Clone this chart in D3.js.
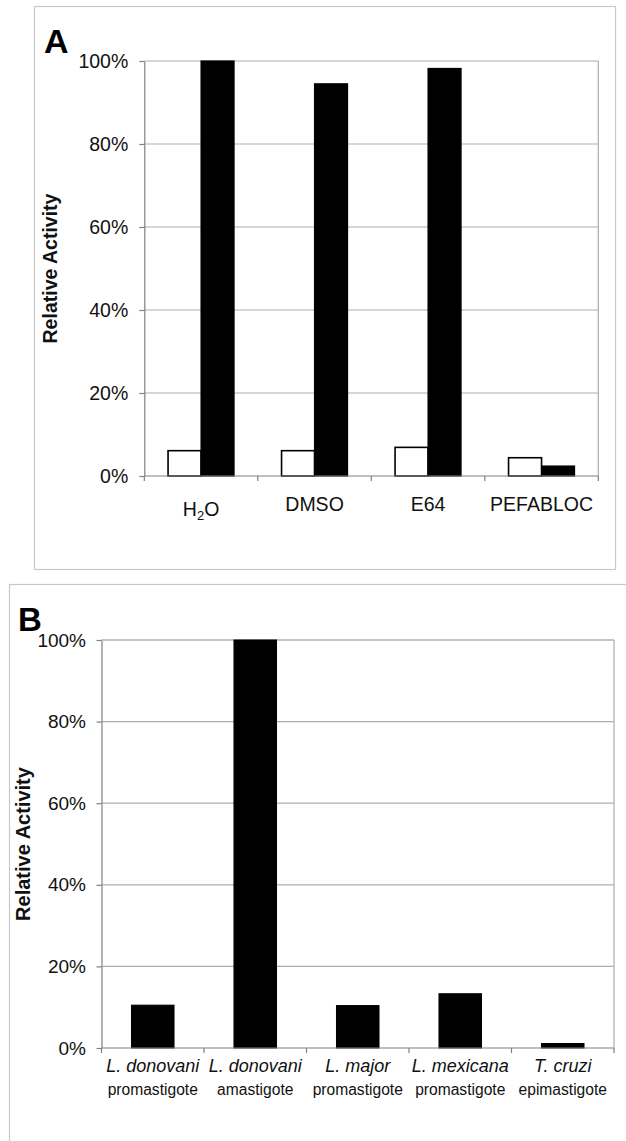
<!DOCTYPE html>
<html>
<head>
<meta charset="utf-8">
<script src="https://cdn.jsdelivr.net/npm/d3@7/dist/d3.min.js"></script>
<style>
  html, body { margin: 0; padding: 0; background: #fff; }
  svg { display: block; font-family: "Liberation Sans", Arial, sans-serif; }
</style>
</head>
<body>
<svg id="chart" width="626" height="1141"></svg>
<script>
// ---- Data ----
const categoriesA = ["H2O", "DMSO", "E64", "PEFABLOC"];
const seriesA = ["open", "filled"];
const openValuesA = [0.061, 0.061, 0.069, 0.044];
const filledValuesA = [1.0, 0.945, 0.982, 0.024];

const speciesB = ["L. donovani", "L. donovani", "L. major", "L. mexicana", "T. cruzi"];
const stagesB = ["promastigote", "amastigote", "promastigote", "promastigote", "epimastigote"];
const valuesB = [0.105, 1.0, 0.104, 0.133, 0.011];

const yTicks = [0, 0.2, 0.4, 0.6, 0.8, 1.0];
const yLabel = "Relative Activity";

// ---- Setup ----
const svg = d3.select("#chart");
svg.append("rect").attr("width", 626).attr("height", 1141).attr("fill", "#fff");
const fmt = d3.format(".0%");
const axisColor = "#808080";
const gridColor = "#adadad";
const frameColor = "#c8c8c8";
const textColor = "#111";

// ================= Panel A =================
svg.append("rect").attr("x", 34.5).attr("y", 6.5).attr("width", 581).attr("height", 563)
  .attr("fill", "none").attr("stroke", frameColor).attr("stroke-width", 1.2);

const A = { left: 144.3, right: 598.3, top: 61, bottom: 476 };
const yA = d3.scaleLinear().domain([0, 1]).range([A.bottom, A.top]);
const xA = d3.scaleBand().domain(categoriesA).range([A.left, A.right]).padding(0);
const xAin = d3.scaleBand().domain(seriesA).range([0, xA.bandwidth()]).paddingInner(0).paddingOuter(0.72);

const gA = svg.append("g");
// gridlines
gA.append("g").selectAll("line").data(yTicks.filter(t => t > 0)).join("line")
  .attr("x1", A.left).attr("x2", A.right)
  .attr("y1", d => yA(d)).attr("y2", d => yA(d))
  .attr("stroke", gridColor).attr("stroke-width", 1.2);
// right border
gA.append("line").attr("x1", A.right).attr("x2", A.right).attr("y1", A.top).attr("y2", A.bottom)
  .attr("stroke", gridColor).attr("stroke-width", 1.2);

// bars
const dataA = categoriesA.map((c, i) => ({ c, open: openValuesA[i], filled: filledValuesA[i] }));
const grpA = gA.append("g").selectAll("g").data(dataA).join("g")
  .attr("transform", d => `translate(${xA(d.c)},0)`);
grpA.append("rect")
  .attr("x", xAin("open")).attr("width", xAin.bandwidth())
  .attr("y", d => yA(d.open)).attr("height", d => yA(0) - yA(d.open))
  .attr("fill", "#fff").attr("stroke", "#000").attr("stroke-width", 1.6);
grpA.append("rect")
  .attr("x", xAin("filled")).attr("width", xAin.bandwidth())
  .attr("y", d => yA(d.filled)).attr("height", d => yA(0) - yA(d.filled))
  .attr("fill", "#000").attr("stroke", "#000").attr("stroke-width", 1.2);

// y axis
const yAxisA = gA.append("g").attr("transform", `translate(${A.left},0)`)
  .call(d3.axisLeft(yA).tickValues(yTicks).tickFormat(fmt).tickSize(5).tickPadding(11).tickSizeOuter(0));
yAxisA.selectAll("path, line").attr("stroke", axisColor).attr("stroke-width", 1.2);
yAxisA.selectAll("text").attr("font-size", 19.5).attr("fill", textColor)
  .attr("font-family", "Liberation Sans, Arial, sans-serif");

// x axis line + boundary ticks
gA.append("line").attr("x1", A.left).attr("x2", A.right).attr("y1", A.bottom).attr("y2", A.bottom)
  .attr("stroke", axisColor).attr("stroke-width", 1.2);
const boundsA = categoriesA.map(c => xA(c)).concat([xA.range()[1]]);
gA.append("g").selectAll("line").data(boundsA).join("line")
  .attr("x1", d => d).attr("x2", d => d).attr("y1", A.bottom).attr("y2", A.bottom + 5)
  .attr("stroke", axisColor).attr("stroke-width", 1.2);

// x labels
const lblA = gA.append("g").selectAll("text").data(categoriesA).join("text")
  .attr("x", d => xA(d) + xA.bandwidth() / 2)
  .attr("y", d => d === "H2O" ? 515.7 : 510.7)
  .attr("text-anchor", "middle").attr("font-size", 19.5).attr("fill", textColor);
lblA.each(function (d) {
  const t = d3.select(this);
  if (d === "H2O") {
    t.append("tspan").text("H");
    t.append("tspan").text("2").attr("font-size", 13).attr("dy", 4);
    t.append("tspan").text("O").attr("dy", -4);
  } else {
    t.text(d);
  }
});

// y label
svg.append("text").attr("transform", `translate(56.5,${(A.top + A.bottom) / 2}) rotate(-90)`)
  .attr("text-anchor", "middle").attr("font-size", 19.5).attr("font-weight", "bold")
  .attr("fill", textColor).text(yLabel);
// panel letter
svg.append("text").attr("x", 44).attr("y", 52.7).attr("font-size", 34).attr("font-weight", "bold")
  .attr("fill", "#000").text("A");

// ================= Panel B =================
svg.append("rect").attr("x", 9.5).attr("y", 584.5).attr("width", 640).attr("height", 700)
  .attr("fill", "none").attr("stroke", frameColor).attr("stroke-width", 1.2);

const B = { left: 101.5, right: 614, top: 640, bottom: 1048 };
const yB = d3.scaleLinear().domain([0, 1]).range([B.bottom, B.top]);
const idxB = speciesB.map((s, i) => i);
const xB = d3.scaleBand().domain(idxB).range([B.left, B.right]).paddingInner(0.585).paddingOuter(0.2925);
const stepB = (B.right - B.left) / idxB.length;

const gB = svg.append("g");
gB.append("g").selectAll("line").data(yTicks.filter(t => t > 0)).join("line")
  .attr("x1", B.left).attr("x2", B.right)
  .attr("y1", d => yB(d)).attr("y2", d => yB(d))
  .attr("stroke", d => d === 1 ? "#8a8a8a" : gridColor).attr("stroke-width", 1.2);
gB.append("line").attr("x1", B.right).attr("x2", B.right).attr("y1", B.top).attr("y2", B.bottom)
  .attr("stroke", gridColor).attr("stroke-width", 1.2);

gB.append("g").selectAll("rect").data(idxB).join("rect")
  .attr("x", d => xB(d)).attr("width", xB.bandwidth())
  .attr("y", d => yB(valuesB[d])).attr("height", d => yB(0) - yB(valuesB[d]))
  .attr("fill", "#000").attr("stroke", "#000").attr("stroke-width", 1);

const yAxisB = gB.append("g").attr("transform", `translate(${B.left},0)`)
  .call(d3.axisLeft(yB).tickValues(yTicks).tickFormat(fmt).tickSize(5).tickPadding(10.5).tickSizeOuter(0));
yAxisB.selectAll("path, line").attr("stroke", axisColor).attr("stroke-width", 1.2);
yAxisB.selectAll("text").attr("font-size", 19).attr("fill", textColor)
  .attr("font-family", "Liberation Sans, Arial, sans-serif");

gB.append("line").attr("x1", B.left).attr("x2", B.right).attr("y1", B.bottom).attr("y2", B.bottom)
  .attr("stroke", axisColor).attr("stroke-width", 1.2);
const boundsB = idxB.map(i => B.left + i * stepB).concat([B.right]);
gB.append("g").selectAll("line").data(boundsB).join("line")
  .attr("x1", d => d).attr("x2", d => d).attr("y1", B.bottom).attr("y2", B.bottom + 5)
  .attr("stroke", axisColor).attr("stroke-width", 1.2);

gB.append("g").selectAll("text").data(idxB).join("text")
  .attr("x", d => xB(d) + xB.bandwidth() / 2).attr("y", 1072)
  .attr("text-anchor", "middle").attr("font-size", 18).attr("font-style", "italic")
  .attr("fill", textColor).text(d => speciesB[d]);
gB.append("g").selectAll("text").data(idxB).join("text")
  .attr("x", d => xB(d) + xB.bandwidth() / 2).attr("y", 1095)
  .attr("text-anchor", "middle").attr("font-size", 15.6)
  .attr("fill", textColor).text(d => stagesB[d]);

svg.append("text").attr("transform", `translate(30,${(B.top + B.bottom) / 2}) rotate(-90)`)
  .attr("text-anchor", "middle").attr("font-size", 20).attr("font-weight", "bold")
  .attr("fill", textColor).text(yLabel);
svg.append("text").attr("x", 18).attr("y", 631).attr("font-size", 33).attr("font-weight", "bold")
  .attr("fill", "#000").text("B");
</script>
</body>
</html>
